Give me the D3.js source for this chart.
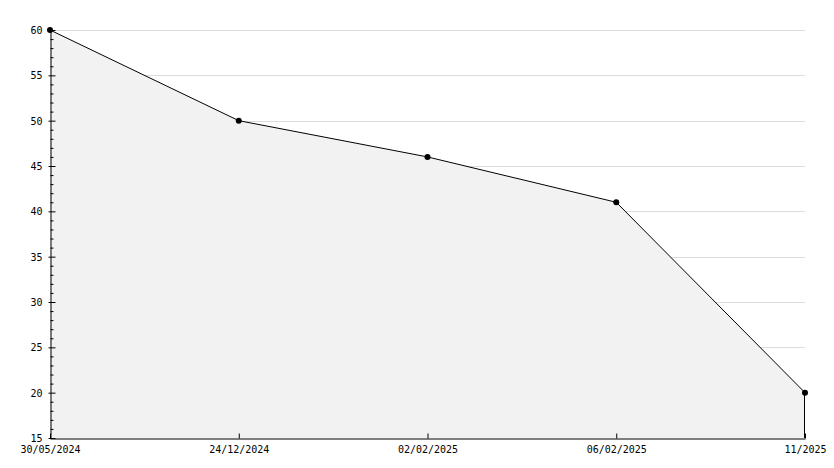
<!DOCTYPE html>
<meta charset="utf-8">
<style>
    body { margin: 0; background: #fff; }
    text { font-family: "DejaVu Sans Mono", monospace; font-size: 10px; fill: #000; }
</style>
<script src="https://d3js.org/d3.v7.min.js"></script>
<svg id="chart" width="834" height="468"></svg>
<script>

// data
var dates = ["30/05/2024", "24/12/2024", "02/02/2025", "06/02/2025", "11/2025"];
var values = [60, 50, 46, 41, 20];
var yTicks = [15, 20, 25, 30, 35, 40, 45, 50, 55, 60];

var svg = d3.select("#chart"),
    mLeft = 50, mRight = 805, mTop = 30, mBottom = 438;

var x = d3.scalePoint()
    .domain(dates)
    .range([mLeft, mRight]);

var y = d3.scaleLinear()
    .domain([15, 60])
    .range([mBottom, mTop]);

var pts = dates.map(function(d, i) { return {d: d, v: values[i]}; });

// grid lines
svg.append("g")
    .selectAll("line")
    .data(yTicks.filter(function(t) { return t > 15; }))
    .enter().append("line")
        .attr("x1", mLeft).attr("x2", mRight)
        .attr("y1", function(d) { return Math.round(y(d)) + 0.5; })
        .attr("y2", function(d) { return Math.round(y(d)) + 0.5; })
        .attr("stroke", "#dcdcdc");

// filled area
var area = d3.area()
    .x(function(d) { return x(d.d); })
    .y0(y(15))
    .y1(function(d) { return y(d.v); });

svg.append("path")
    .datum(pts)
    .attr("d", area)
    .attr("fill", "#f2f2f2");

// right edge of the area
svg.append("line")
    .attr("x1", x(dates[dates.length - 1]) - 0.5).attr("x2", x(dates[dates.length - 1]) - 0.5)
    .attr("y1", y(values[values.length - 1])).attr("y2", mBottom)
    .attr("stroke", "#000");

// line
var line = d3.line()
    .x(function(d) { return x(d.d); })
    .y(function(d) { return y(d.v); });

svg.append("path")
    .datum(pts)
    .attr("d", line)
    .attr("fill", "none")
    .attr("stroke", "#000")
    .attr("stroke-width", 1);

// y axis
var yAxis = d3.axisLeft(y)
    .tickValues(d3.range(15, 61, 1))
    .tickSize(0)
    .tickFormat("");

var gy = svg.append("g")
    .attr("transform", "translate(" + (mLeft + 0.5) + ",0)")
    .call(yAxis);
gy.select(".domain").attr("stroke", "#000");
gy.selectAll(".tick line")
    .attr("x1", function(d) { return d % 5 === 0 ? -2 : 0; })
    .attr("x2", function(d) { return d % 5 === 0 ? 5 : 3; })
    .attr("stroke", "#000");
gy.selectAll(".tick")
    .filter(function(d) { return d % 5 === 0; })
    .append("text")
        .attr("x", -8)
        .attr("dy", "0.35em")
        .attr("text-anchor", "end")
        .text(function(d) { return d; });

// x axis
var xAxis = d3.axisBottom(x)
    .tickSize(0)
    .tickPadding(0);

var gx = svg.append("g")
    .attr("transform", "translate(0," + (mBottom + 0.5) + ")")
    .call(xAxis);
gx.select(".domain").attr("stroke", "#000");
gx.selectAll(".tick line")
    .attr("y1", -5).attr("y2", 0)
    .attr("stroke", "#000");
gx.selectAll(".tick text")
    .attr("y", 11)
    .attr("dy", "0.35em");

// markers
svg.append("g")
    .selectAll("circle")
    .data(pts)
    .enter().append("circle")
        .attr("cx", function(d) { return x(d.d); })
        .attr("cy", function(d) { return y(d.v); })
        .attr("r", 3)
        .attr("fill", "#000");

</script>
